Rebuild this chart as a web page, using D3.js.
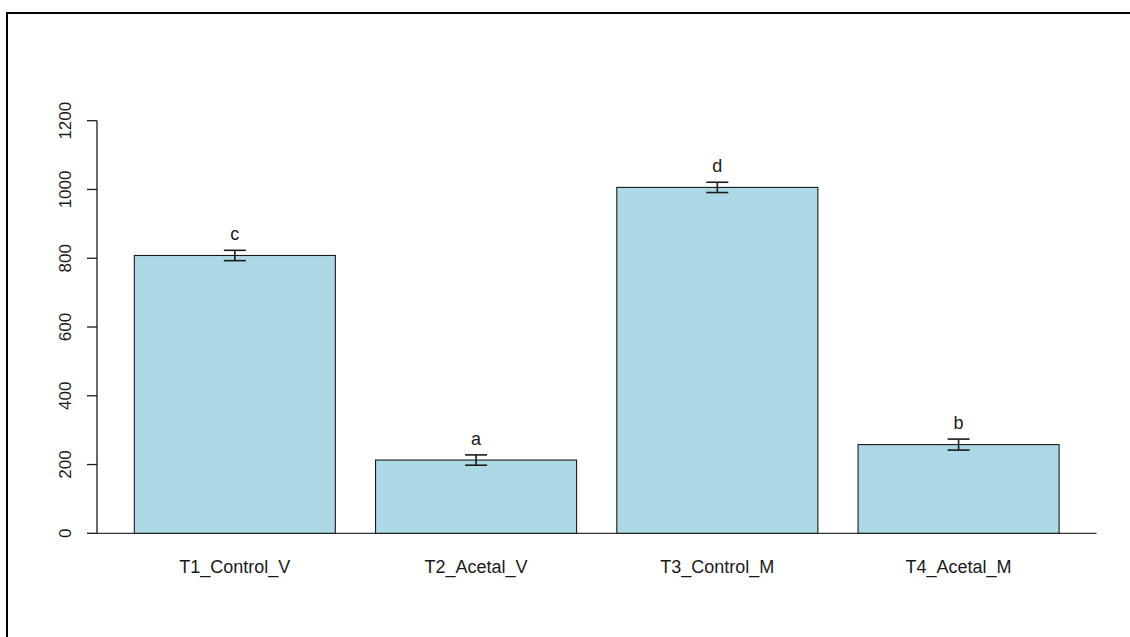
<!DOCTYPE html>
<html>
<head>
<meta charset="utf-8">
<script src="https://cdn.jsdelivr.net/npm/d3@7"></script>
<style>
  html, body { margin: 0; padding: 0; background: #fff; }
  svg { display: block; }
  text { font-family: "Liberation Sans", Arial, sans-serif; fill: #1a1a1a; }
</style>
</head>
<body>
<svg id="chart" width="1130" height="637"></svg>
<script>
// Treatment groups and their means, standard errors and significance letters
const categories = ["T1_Control_V", "T2_Acetal_V", "T3_Control_M", "T4_Acetal_M"];
const means = [808, 213, 1006, 258];
const errors = [15, 15, 15, 16];
const letters = ["c", "a", "d", "b"];
const yTicks = [0, 200, 400, 600, 800, 1000, 1200];

const svg = d3.select("#chart");

// Outer frame (runs off the right and bottom edges)
svg.append("path")
  .attr("d", "M7,637 L7,13 L1130,13")
  .attr("fill", "none")
  .attr("stroke", "#000")
  .attr("stroke-width", 2);

const y = d3.scaleLinear().domain([0, 1200]).range([533.3, 120.7]);
const x = d3.scaleBand()
  .domain(categories)
  .range([114.2, 1079.2])
  .paddingInner(1 / 6)
  .paddingOuter(1 / 12);

// Baseline across the plot region
svg.append("line")
  .attr("x1", 97).attr("x2", 1096.5)
  .attr("y1", y(0)).attr("y2", y(0))
  .attr("stroke", "#333").attr("stroke-width", 1.3);

// Bars
svg.append("g").selectAll("rect")
  .data(categories)
  .join("rect")
  .attr("x", d => x(d))
  .attr("width", x.bandwidth())
  .attr("y", (d, i) => y(means[i]))
  .attr("height", (d, i) => y(0) - y(means[i]))
  .attr("fill", "#add8e6")
  .attr("stroke", "#1a1a1a")
  .attr("stroke-width", 1.1);

// Error bars
const eb = svg.append("g").attr("stroke", "#1a1a1a").attr("stroke-width", 1.6);
categories.forEach((c, i) => {
  const cx = x(c) + x.bandwidth() / 2;
  const hi = y(means[i] + errors[i]);
  const lo = y(means[i] - errors[i]);
  eb.append("line").attr("x1", cx).attr("x2", cx).attr("y1", hi).attr("y2", lo);
  eb.append("line").attr("x1", cx - 11).attr("x2", cx + 11).attr("y1", hi).attr("y2", hi);
  eb.append("line").attr("x1", cx - 11).attr("x2", cx + 11).attr("y1", lo).attr("y2", lo);
});

// Significance letters above the error bars
svg.append("g").selectAll("text")
  .data(categories)
  .join("text")
  .attr("x", d => x(d) + x.bandwidth() / 2)
  .attr("y", (d, i) => y(means[i] + errors[i]) - 10)
  .attr("text-anchor", "middle")
  .attr("font-size", 18)
  .text((d, i) => letters[i]);

// Y axis (rotated tick labels, R style)
const yAxis = svg.append("g").attr("transform", "translate(97,0)");
yAxis.append("line")
  .attr("x1", 0).attr("x2", 0)
  .attr("y1", y(1200)).attr("y2", y(0))
  .attr("stroke", "#1a1a1a").attr("stroke-width", 1.3);
yAxis.selectAll("line.tick")
  .data(yTicks)
  .join("line")
  .attr("class", "tick")
  .attr("x1", -10).attr("x2", 0)
  .attr("y1", d => y(d)).attr("y2", d => y(d))
  .attr("stroke", "#1a1a1a").attr("stroke-width", 1.3);
yAxis.selectAll("text")
  .data(yTicks)
  .join("text")
  .attr("transform", d => `translate(-26,${y(d)}) rotate(-90)`)
  .attr("text-anchor", "middle")
  .attr("font-size", 17)
  .text(d => d);

// Category labels
svg.append("g").selectAll("text")
  .data(categories)
  .join("text")
  .attr("x", d => x(d) + x.bandwidth() / 2)
  .attr("y", 573)
  .attr("text-anchor", "middle")
  .attr("font-size", 18)
  .text(d => d);
</script>
</body>
</html>
